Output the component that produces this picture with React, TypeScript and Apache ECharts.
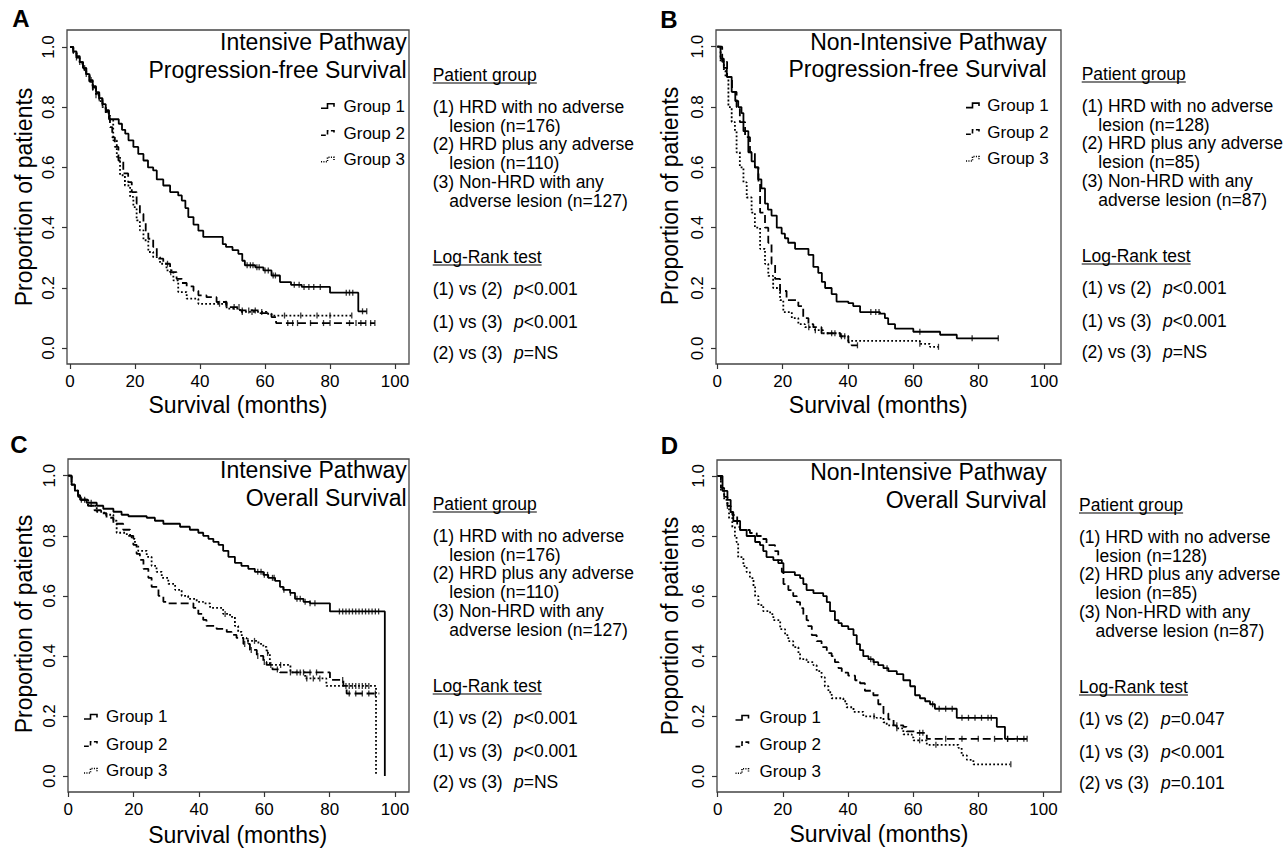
import React, { useEffect, useRef } from "react";
import * as echarts from "echarts";

type Pt = [number, number];

const FONT = '"Liberation Sans", Arial, Helvetica, sans-serif';

// ---------- axis ticks ----------
const X_TICKS = [0, 20, 40, 60, 80, 100];
const Y_TICKS = [0, 0.2, 0.4, 0.6, 0.8, 1.0];

// ---------- text ----------
const PANEL_LETTERS = ["A", "B", "C", "D"];
const PANEL_TITLES = [
  ["Intensive Pathway", "Progression-free Survival"],
  ["Non-Intensive Pathway", "Progression-free Survival"],
  ["Intensive Pathway", "Overall Survival"],
  ["Non-Intensive Pathway", "Overall Survival"],
];
const GROUP_NAMES = ["Group 1", "Group 2", "Group 3"];
const N_INTENSIVE = [176, 110, 127];
const N_NON_INTENSIVE = [128, 85, 87];
const PANEL_N = [N_INTENSIVE, N_NON_INTENSIVE, N_INTENSIVE, N_NON_INTENSIVE];
const COMPARISONS = ["(1) vs (2)", "(1) vs (3)", "(2) vs (3)"];
const P_A = ["<0.001", "<0.001", "=NS"];
const P_B = ["<0.001", "<0.001", "=NS"];
const P_C = ["<0.001", "<0.001", "=NS"];
const P_D = ["=0.047", "<0.001", "=0.101"];
const PANEL_P = [P_A, P_B, P_C, P_D];

// ---------- Kaplan-Meier step data: [month, survival after step] ----------
const A_G1: Pt[] = [[0,1],[1,.985],[2,.965],[3,.95],[4,.93],[5,.91],[6,.89],[7,.87],[8,.85],[9,.83],[10,.81],[11,.79],[12,.76],[15,.745],[16,.725],[17,.712],[18,.69],[19.5,.668],[21,.645],[22.6,.623],[24,.6],[25.6,.59],[26.7,.56],[28.7,.54],[30.8,.518],[33.3,.507],[34.4,.49],[35.5,.465],[36.4,.435],[38,.41],[39.5,.39],[41,.369],[47,.345],[48,.336],[50,.325],[51.8,.313],[53,.29],[53.8,.275],[57,.268],[59.5,.258],[62,.241],[64.6,.219],[68,.21],[71.3,.203],[80,.184],[88.7,.122],[91.3,.122]];
const A_G2: Pt[] = [[0,1],[1,.985],[2,.97],[3,.95],[4,.93],[5,.905],[6,.885],[7,.865],[8,.845],[9,.825],[10,.805],[11,.785],[12,.765],[12.3,.734],[13,.70],[13.8,.668],[14.9,.623],[16.4,.58],[17.9,.551],[19,.518],[20.5,.48],[21.5,.446],[22.6,.419],[23.3,.39],[24.1,.363],[25.6,.336],[26.7,.297],[28.7,.28],[30.8,.252],[32.8,.23],[34.4,.216],[35.9,.205],[38,.19],[39.5,.175],[42,.169],[45.1,.153],[48.2,.136],[52.3,.125],[58.5,.116],[62,.103],[63.4,.083],[93.8,.083]];
const A_G3: Pt[] = [[0,1],[1,.98],[2,.965],[3,.945],[4,.925],[5,.91],[6,.885],[7,.86],[8,.84],[9,.82],[10,.8],[11,.78],[12.3,.756],[13.3,.69],[14.4,.635],[15.4,.574],[16.9,.54],[18.5,.502],[19.5,.468],[20.5,.424],[21.5,.391],[22.6,.358],[24.1,.319],[25.6,.302],[27.7,.28],[29.7,.258],[31.8,.225],[33.3,.186],[35.9,.164],[39.5,.147],[48.2,.131],[52.3,.12],[60.5,.114],[62,.108],[86.7,.108]];

const B_G1: Pt[] = [[0,1],[1,.96],[2,.93],[2.9,.9],[4.4,.85],[5.5,.82],[6.4,.8],[7.4,.78],[8,.72],[9.5,.65],[10.5,.62],[11.5,.6],[12.5,.56],[13.5,.53],[14.6,.48],[15.5,.46],[16.6,.44],[18.2,.4],[19.7,.38],[20.7,.365],[21.7,.35],[23.8,.33],[27.9,.31],[29.4,.27],[30.9,.25],[32,.22],[33,.2],[35,.18],[36.5,.155],[40.1,.15],[41.6,.14],[43.7,.12],[49.8,.115],[51.3,.1],[52.3,.08],[54.4,.065],[60,.055],[68.2,.045],[73.3,.033],[86,.033]];
const B_G2: Pt[] = [[0,1],[1.5,.95],[3,.9],[4.5,.85],[5.9,.8],[6.9,.75],[8.5,.7],[10,.65],[11.5,.6],[12.6,.55],[13.1,.45],[14.6,.4],[15.6,.35],[16.6,.28],[17.7,.23],[19.2,.19],[21.2,.16],[24.8,.14],[26.3,.1],[27.9,.08],[29.4,.07],[31.9,.05],[37.6,.04],[40.1,.02],[41.1,.01],[42.9,.01]];
const B_G3: Pt[] = [[0,1],[1,.95],[2,.92],[2.5,.9],[3.4,.8],[4.4,.75],[5.4,.72],[5.9,.65],[6.9,.6],[8,.55],[9,.5],[10.5,.45],[11.5,.4],[13.1,.33],[14.6,.28],[15.6,.24],[17.1,.2],[19.2,.16],[20.2,.12],[22.8,.1],[24.8,.08],[26.8,.07],[29.9,.06],[32.4,.05],[37.6,.04],[40.1,.025],[62,.015],[65.1,.005],[67.7,.005]];

const C_G1: Pt[] = [[0,1],[1,.97],[2,.95],[3,.935],[3.6,.92],[5.6,.91],[8.7,.9],[10.7,.89],[13.8,.88],[16.3,.87],[18.4,.865],[24,.86],[26.5,.85],[29.1,.84],[34.2,.83],[37.2,.82],[39.8,.81],[41.3,.8],[42.9,.79],[44.4,.78],[46,.77],[47.4,.75],[49,.73],[51,.71],[53,.7],[55.1,.69],[57.1,.68],[59.7,.67],[61.2,.66],[63.3,.65],[64.8,.63],[65.8,.62],[67.9,.61],[69.4,.59],[72,.58],[74,.575],[80.1,.548],[96.9,0]];
const C_G2: Pt[] = [[0,1],[1,.97],[2,.95],[3,.93],[4,.92],[6,.9],[8,.885],[10,.875],[11.7,.86],[13.8,.84],[16.8,.82],[18.9,.8],[19.9,.77],[20.9,.74],[21.9,.72],[23,.69],[24.5,.66],[25.5,.63],[27.6,.6],[29.1,.58],[30.1,.575],[38.3,.56],[39.8,.54],[41.3,.52],[42.3,.5],[45.4,.49],[48.5,.48],[50,.47],[51.5,.46],[53.6,.44],[55.6,.42],[57.7,.4],[59.7,.38],[60.7,.37],[62.5,.355],[64.8,.345],[80.1,.32],[84.2,.3],[85.2,.275],[95.2,.275]];
const C_G3: Pt[] = [[0,1],[1,.97],[2,.95],[3,.93],[4,.92],[6.1,.9],[8.7,.88],[11,.87],[13.8,.85],[14.8,.81],[17.9,.8],[19.4,.79],[20.4,.77],[21.4,.75],[24,.73],[25.5,.7],[27,.68],[28.6,.66],[30.6,.64],[32.7,.62],[34.7,.6],[36.7,.59],[39.3,.58],[41.3,.575],[43.4,.56],[47.4,.54],[49.5,.53],[51,.5],[52,.48],[53.1,.46],[54.6,.45],[58.2,.44],[59.7,.43],[60.7,.41],[61.7,.37],[68,.345],[72.5,.325],[79,.3],[94.2,0]];

const D_G1: Pt[] = [[0,1],[1.5,.95],[3,.92],[4,.88],[4.8,.85],[6.9,.82],[8.9,.8],[11.5,.78],[13,.77],[14,.75],[15,.73],[17.1,.72],[18.6,.71],[20.2,.68],[23.7,.67],[25.3,.66],[26.3,.64],[27.3,.62],[29.4,.61],[32.4,.6],[33.5,.58],[34.5,.55],[36,.52],[37.1,.51],[38.1,.5],[40.1,.49],[41.7,.47],[42.7,.44],[43.7,.42],[44.7,.4],[46.3,.39],[47.8,.38],[49.3,.37],[50.9,.36],[52.4,.35],[55,.34],[57,.32],[59.1,.3],[60.6,.27],[62.1,.26],[63.7,.25],[65.2,.24],[66.7,.225],[73.4,.195],[85.7,.165],[88.2,.125],[94.9,.125]];
const D_G2: Pt[] = [[0,1],[1,.96],[2,.93],[3,.9],[4,.88],[4.5,.87],[6,.83],[6.9,.82],[9.9,.81],[12,.8],[13.5,.79],[15,.77],[17.6,.75],[18.6,.72],[19.7,.68],[20.2,.64],[21.7,.62],[23.2,.6],[24.3,.58],[25.3,.56],[26.3,.54],[27.3,.52],[27.8,.5],[28.9,.47],[30.4,.45],[31.9,.43],[33.5,.41],[35,.4],[36,.38],[37.1,.36],[38.1,.345],[40.1,.335],[42.2,.32],[43.7,.31],[45.2,.285],[47.8,.27],[49.3,.24],[50.9,.21],[52.4,.19],[54,.17],[57,.165],[58,.15],[61,.145],[64.2,.125],[94.9,.125]];
const D_G3: Pt[] = [[0,1],[1,.95],[2,.92],[3,.9],[3.5,.86],[4.5,.83],[5.3,.8],[5.8,.78],[6.3,.73],[7.9,.7],[8.9,.68],[9.9,.66],[11,.63],[11.5,.6],[12.5,.57],[14,.55],[16.1,.54],[17.1,.52],[19.2,.49],[20.7,.47],[21.7,.45],[23.2,.43],[24.8,.41],[25.3,.39],[27.3,.38],[29.4,.37],[30.4,.35],[31.9,.33],[32.9,.3],[34,.28],[35,.26],[38.6,.25],[39.6,.23],[41.7,.215],[44.7,.2],[48.8,.195],[50.9,.18],[51.9,.17],[54.9,.16],[57,.14],[59.6,.13],[60.1,.12],[64.2,.105],[73.9,.095],[74.9,.07],[76.5,.055],[78.5,.04],[89.8,.04]];

// ---------- censoring times (months) ----------
const A_C1 = [2, 4.5, 6.5, 9, 54.5, 55.5, 56.3, 57.5, 58.2, 60, 61, 62.5, 63.2, 69, 70.5, 72, 73.5, 75, 77, 85, 86, 87, 90, 91.3];
const A_C2 = [3, 7, 30, 31, 50.5, 52, 53, 55, 57, 67, 68.5, 70, 74, 78, 80, 86, 88, 89.5, 91, 92.5, 93.8];
const A_C3 = [5, 8, 46, 48, 53, 56, 59, 66, 71, 76, 80, 86.7];
const B_C1 = [47, 48.5, 49.5, 62, 78, 86];
const B_C2 = [36, 38, 42.9];
const B_C3 = [28, 30, 35, 39, 62, 67.7];
const C_C1 = [4, 7, 58, 59, 60, 61, 62.5, 63, 66, 68, 70, 71, 72.5, 74, 75.5, 83, 84, 85, 86, 87, 88, 89, 90, 91, 92, 93, 94, 95];
const C_C2 = [5, 54, 56, 58, 60, 62, 64, 70, 72, 74, 76, 84, 86, 88, 90, 92, 94];
const C_C3 = [48, 55, 57, 61, 65, 68, 71, 73, 75, 77, 85, 86, 87, 88, 89, 90, 91, 92];
const D_C1 = [2, 47, 48, 52, 66, 68, 70, 72, 75, 77, 79, 81, 83, 84, 89, 92, 95];
const D_C2 = [3, 55, 62, 63, 70, 75, 80, 85, 89, 94];
const D_C3 = [48, 55, 62, 67, 90];

const CURVES: Pt[][][] = [
  [A_G1, A_G2, A_G3],
  [B_G1, B_G2, B_G3],
  [C_G1, C_G2, C_G3],
  [D_G1, D_G2, D_G3],
];
const CENSORS: number[][][] = [
  [A_C1, A_C2, A_C3],
  [B_C1, B_C2, B_C3],
  [C_C1, C_C2, C_C3],
  [D_C1, D_C2, D_C3],
];

// ---------- layout ----------
const LAYOUT = [
  { left: 67, top: 30, width: 342, height: 334, xMin: -0.92, xMax: 104.3, yMin: -0.053, yMax: 1.0565,
    letter: [21, 18.5], titleRight: 406.7, titleY: [42.3, 70], legendIcon: 321, legendText: 343.5, legendY: [106, 133, 159.5],
    yTitle: [23.5, 197], xTitle: [238, 405], side: [432.7, 75], pCol: 514 },
  { left: 716, top: 30, width: 345, height: 334, xMin: -0.4, xMax: 105.2, yMin: -0.052, yMax: 1.0554,
    letter: [669, 19], titleRight: 1046.7, titleY: [42.3, 69], legendIcon: 966, legendText: 987.3, legendY: [105.3, 132, 158.7],
    yTitle: [669.5, 196], xTitle: [878.3, 405], side: [1081.7, 74], pCol: 1163 },
  { left: 68, top: 459, width: 341, height: 333, xMin: -0.1, xMax: 104.3, yMin: -0.053, yMax: 1.0556,
    letter: [19, 444], titleRight: 406.7, titleY: [470, 498.3], legendIcon: 84, legendText: 106, legendY: [716.7, 744, 770.7],
    yTitle: [23.5, 624], xTitle: [237.7, 835], side: [432.7, 504], pCol: 514 },
  { left: 717, top: 460, width: 344, height: 332, xMin: -0.2, xMax: 105.4, yMin: -0.052, yMax: 1.053,
    letter: [669.5, 445], titleRight: 1046.7, titleY: [471.7, 500], legendIcon: 735.5, legendText: 759.5, legendY: [717.7, 744.3, 771],
    yTitle: [670, 626], xTitle: [879, 834], side: [1079, 505], pCol: 1161 },
];

const LINE_DASH: (number[] | "solid")[] = ["solid", [8, 4], [1.8, 2.2]];
const SIDE_FONT = 17.5;

function survAt(curve: Pt[], t: number): number {
  let v = curve[0][1];
  for (const [x, s] of curve) {
    if (x <= t) v = s;
    else break;
  }
  return v;
}

export default function App() {
  const ref = useRef<HTMLDivElement>(null);

  useEffect(() => {
    if (!ref.current) return;
    const chart = echarts.init(ref.current, undefined, { renderer: "svg" });

    const canvas = document.createElement("canvas");
    const ctx = canvas.getContext("2d")!;
    ctx.font = `${SIDE_FONT}px ${FONT}`;
    const measure = (s: string) => ctx.measureText(s).width;

    const grids: any[] = [];
    const xAxes: any[] = [];
    const yAxes: any[] = [];
    const series: any[] = [];
    const graphic: any[] = [];

    LAYOUT.forEach((L, i) => {
      grids.push({
        left: L.left, top: L.top, width: L.width, height: L.height,
        show: true, borderColor: "#444", borderWidth: 1.3, backgroundColor: "transparent",
      });
      xAxes.push({
        type: "value", gridIndex: i, min: L.xMin, max: L.xMax, position: "bottom",
        axisLine: { show: false, onZero: false }, splitLine: { show: false },
        axisTick: { show: true, length: 5, lineStyle: { color: "#333", width: 1.2 }, customValues: X_TICKS },
        axisLabel: { customValues: X_TICKS, fontSize: 17, color: "#000", margin: 9, fontFamily: FONT },
      });
      yAxes.push({
        type: "value", gridIndex: i, min: L.yMin, max: L.yMax, position: "left",
        axisLine: { show: false, onZero: false }, splitLine: { show: false },
        axisTick: { show: true, length: 5, lineStyle: { color: "#333", width: 1.2 }, customValues: Y_TICKS },
        axisLabel: {
          customValues: Y_TICKS, fontSize: 17, color: "#000", margin: 10, fontFamily: FONT, rotate: 90,
          formatter: (v: number) => v.toFixed(1),
        },
      });

      CURVES[i].forEach((curve, g) => {
        series.push({
          type: "line", xAxisIndex: i, yAxisIndex: i, step: "end", data: curve,
          showSymbol: false, symbol: "none", silent: true,
          lineStyle: { color: "#000", width: 1.8, type: LINE_DASH[g] },
        });
        series.push({
          type: "scatter", xAxisIndex: i, yAxisIndex: i, silent: true,
          data: CENSORS[i][g].map((t) => [t, survAt(curve, t)]),
          symbol: "rect", symbolSize: [1.3, 6], itemStyle: { color: "#000" },
        });
      });

      // panel letter
      graphic.push({
        type: "text", x: L.letter[0], y: L.letter[1],
        style: { text: PANEL_LETTERS[i], font: `bold 24px ${FONT}`, fill: "#000", textAlign: "center", textVerticalAlign: "middle" },
      });
      // title
      PANEL_TITLES[i].forEach((t, k) => {
        graphic.push({
          type: "text", x: L.titleRight, y: L.titleY[k],
          style: { text: t, font: `23px ${FONT}`, fill: "#000", textAlign: "right", textVerticalAlign: "middle" },
        });
      });
      // axis titles
      graphic.push({
        type: "text", x: L.yTitle[0], y: L.yTitle[1], rotation: Math.PI / 2,
        style: { text: "Proportion of patients", font: `23px ${FONT}`, fill: "#000", textAlign: "center", textVerticalAlign: "middle" },
      });
      graphic.push({
        type: "text", x: L.xTitle[0], y: L.xTitle[1],
        style: { text: "Survival (months)", font: `23px ${FONT}`, fill: "#000", textAlign: "center", textVerticalAlign: "middle" },
      });
      // legend
      GROUP_NAMES.forEach((name, g) => {
        const y = L.legendY[g];
        const x = L.legendIcon;
        graphic.push({
          type: "polyline",
          shape: { points: [[x, y + 2.3], [x + 6.5, y + 2.3], [x + 6.5, y - 2.2], [x + 13, y - 2.2], [x + 13, y + 0.8]] },
          style: { stroke: "#000", lineWidth: 1.6, fill: null, lineDash: LINE_DASH[g] === "solid" ? null : [...(LINE_DASH[g] as number[])].map((d) => d * 0.6) },
        });
        graphic.push({
          type: "text", x: L.legendText, y,
          style: { text: name, font: `17px ${FONT}`, fill: "#000", textAlign: "left", textVerticalAlign: "middle" },
        });
      });

      // side text
      const [sx, sy] = L.side;
      const n = PANEL_N[i];
      const txt = (s: string, x: number, y: number) =>
        graphic.push({
          type: "text", x, y,
          style: { text: s, font: `${SIDE_FONT}px ${FONT}`, fill: "#000", textAlign: "left", textVerticalAlign: "middle" },
        });
      const underline = (s: string, x: number, y: number) =>
        graphic.push({
          type: "line", shape: { x1: x, y1: y, x2: x + measure(s), y2: y },
          style: { stroke: "#000", lineWidth: 1.2 },
        });
      txt("Patient group", sx, sy);
      underline("Patient group", sx, sy + 8);
      const indent = 16.6;
      const groupLines: [string, number, number][] = [
        ["(1) HRD with no adverse", 0, 31.7],
        [`lesion (n=${n[0]})`, indent, 51],
        ["(2) HRD plus any adverse", 0, 69.3],
        [`lesion (n=${n[1]})`, indent, 88.3],
        ["(3) Non-HRD with any", 0, 107],
        [`adverse lesion (n=${n[2]})`, indent, 126],
      ];
      groupLines.forEach(([s, dx, dy]) => txt(s, sx + dx, sy + dy));
      txt("Log-Rank test", sx, sy + 181.7);
      underline("Log-Rank test", sx, sy + 190);
      const rowDy = [214.3, 246.7, 278.3];
      COMPARISONS.forEach((c, k) => {
        txt(c, sx, sy + rowDy[k]);
        graphic.push({
          type: "text", x: L.pCol, y: sy + rowDy[k],
          style: {
            text: `{it|p}{n|${PANEL_P[i][k]}}`,
            textAlign: "left", textVerticalAlign: "middle",
            rich: {
              it: { font: `italic ${SIDE_FONT}px ${FONT}`, fill: "#000" },
              n: { font: `${SIDE_FONT}px ${FONT}`, fill: "#000" },
            },
          },
        });
      });
    });

    chart.setOption({
      animation: false,
      backgroundColor: "#fff",
      grid: grids,
      xAxis: xAxes,
      yAxis: yAxes,
      series,
      graphic,
    });

    return () => chart.dispose();
  }, []);

  return (
    <div
      ref={ref}
      style={{ position: "fixed", left: 0, top: 0, width: 1285, height: 853, background: "#fff" }}
    />
  );
}
